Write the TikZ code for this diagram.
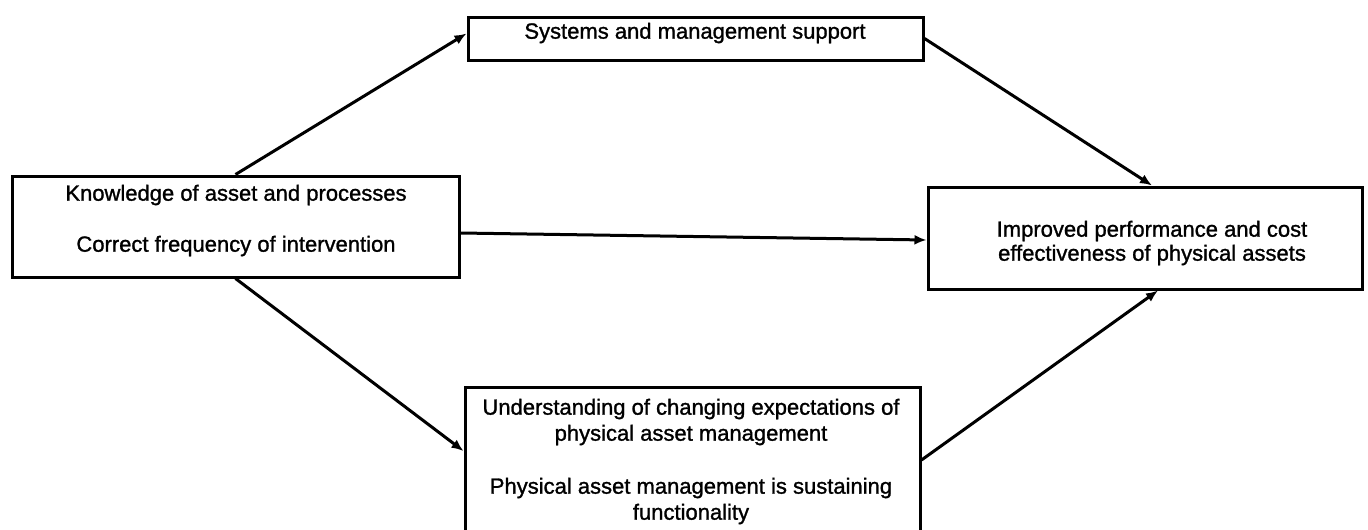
\documentclass[tikz,border=0pt]{standalone}
\usepackage{fontspec}
\setmainfont{Liberation Sans}[BoldFont={Liberation Sans},BoldFeatures={FakeBold=1.2}]
\usetikzlibrary{arrows.meta}
\begin{document}
\begin{tikzpicture}[x=1pt,y=-1pt,
  boxnode/.style={draw,line width=3pt,inner sep=0pt,minimum width=#1},
  txt/.style={font=\fontsize{22}{25}\selectfont\bfseries,align=center,inner sep=0pt},
  link/.style={line width=3pt,-{Latex[length=12pt,width=10pt]}}]
\useasboundingbox (0,0) rectangle (1368,530);
\node[boxnode=447pt,minimum height=101pt] (L) at (235.5,226.5) {};
\node[boxnode=455pt,minimum height=43pt] (T) at (695.5,38.5) {};
\node[boxnode=434pt,minimum height=102pt] (R) at (1145,238) {};
\node[boxnode=455pt,minimum height=150pt] (B) at (692.5,462) {};
\node[txt] (Lt1) at (236,195) {Knowledge of asset and processes};
\node[txt] (Lt2) at (236,246) {Correct frequency of intervention};
\node[txt] (Tt) at (695,33) {Systems and management support};
\node[txt,font=\fontsize{22}{24}\selectfont\bfseries] (Rt) at (1152,243) {Improved performance and cost\\effectiveness of physical assets};
\node[txt,font=\fontsize{22}{26}\selectfont\bfseries] (Bt1) at (691,422) {Understanding of changing expectations of\\physical asset management};
\node[txt,font=\fontsize{22}{26}\selectfont\bfseries] (Bt2) at (691,501) {Physical asset management is sustaining\\functionality};
\draw[link] (L.north) -- ([yshift=5pt]T.west);
\draw[link] (T.east) -- ([xshift=7pt]R.north);
\draw[link] ([yshift=-6.5pt]L.east) -- ([yshift=-2pt]R.west);
\draw[link] (L.south) -- ([yshift=11pt]B.west);
\draw[link] ([yshift=2pt]B.east) -- ([xshift=13pt]R.south);
\end{tikzpicture}
\end{document}
